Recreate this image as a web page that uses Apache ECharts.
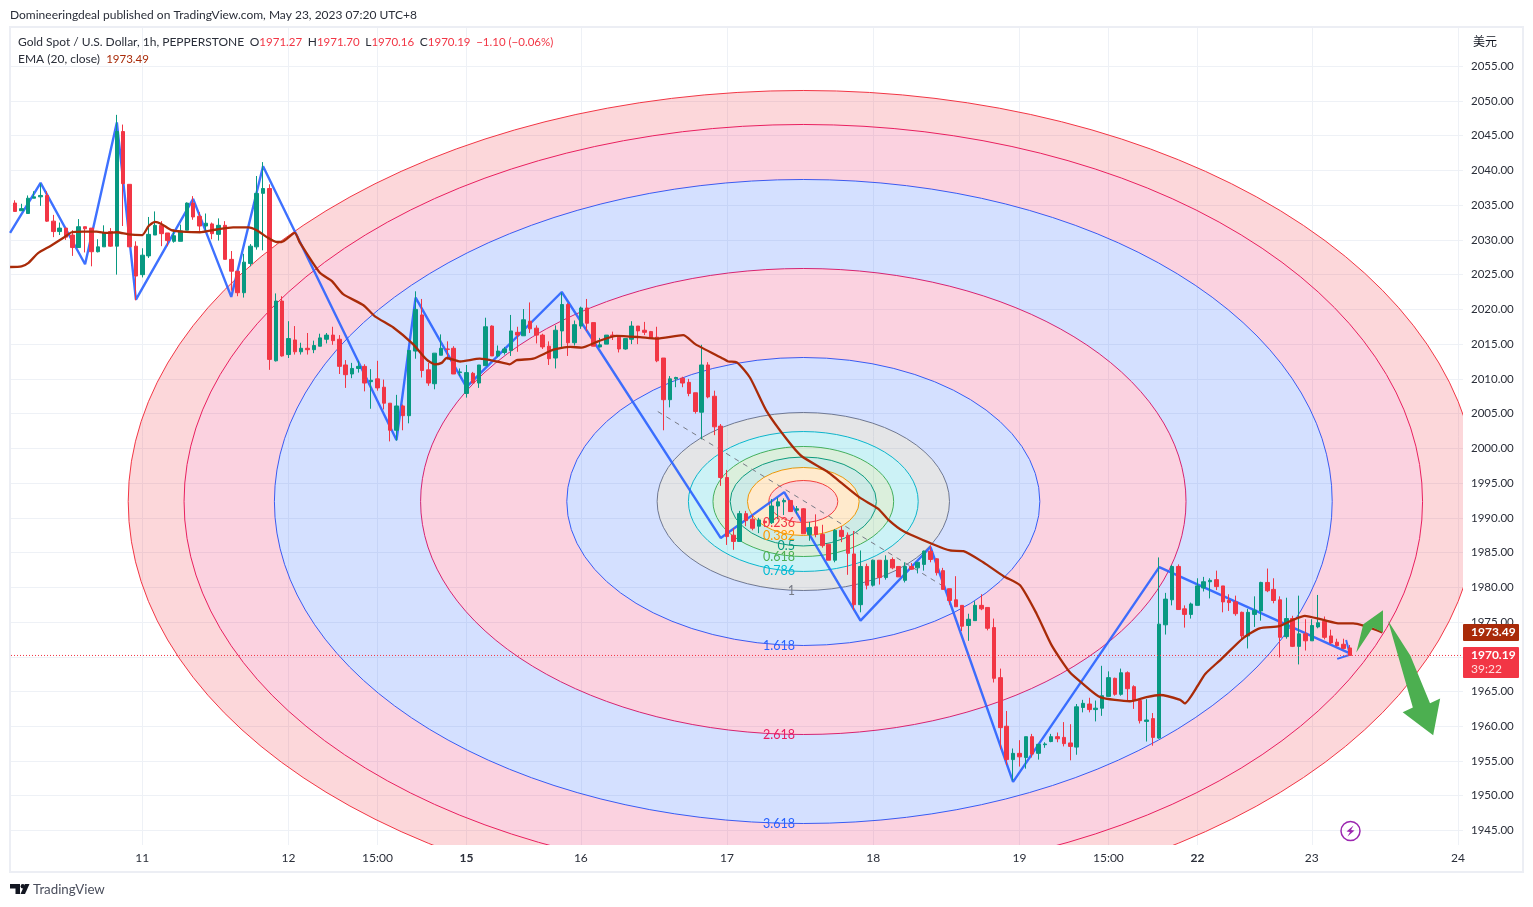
<!DOCTYPE html>
<html>
<head>
<meta charset="utf-8">
<style>html,body{margin:0;padding:0;background:#fff}#c{width:1533px;height:907px}</style>
<script src="https://cdn.jsdelivr.net/npm/echarts@6/dist/echarts.min.js"></script>
</head>
<body>
<div id="c"></div>
<script>
const candleOpen = [
2035.6,2035.3,2034.2,2033.8,2036,2036.2,2036.4,2032.7,2031.2,2031.7,
2030.7,2028.9,2031.9,2031.7,2028.3,2029,2031.2,2029.1,2045.6,2038,
2029.1,2025,2027.7,2030.7,2032.1,2031,2029.8,2029.8,2031.4,2035.3,
2033.4,2032,2032.3,2030.8,2032.1,2027.2,2025.5,2022.4,2026.6,2029,
2036.7,2037.4,2012.6,2021.2,2013.5,2015.6,2013.9,2014.4,2014.2,2014.7,
2015.7,2016.3,2015.7,2012,2010.7,2011.5,2011.8,2009.6,2010,2008.8,
2006.5,2002.6,2006.1,2004.7,2014,2019.2,2011.3,2009.3,2013.4,2014.3,
2014.4,2010.9,2007.9,2010.8,2009.4,2011.9,2017.6,2013.3,2013.8,2014.1,
2016.7,2016.2,2018.3,2017.3,2016.3,2014.7,2013,2016.9,2020.7,2015.2,
2017.6,2020.2,2018.1,2014.6,2015,2016.3,2016,2014.3,2015.7,2017.6,
2017,2016.8,2016,2013,2007,2010,2010.1,2009.5,2008,2005.2,
2012,2007.5,2003.2,1995.8,1987.5,1986.6,1990.6,1989.8,1988.8,1989.5,
1989.3,1991.7,1992.3,1992.5,1991.1,1991.3,1987.6,1988.7,1987.6,1986.2,
1983.9,1988.2,1987.5,1984.8,1977.5,1983,1980.3,1983.9,1981.4,1984,
1983,1981,1983,1982.8,1983.3,1985.2,1984.1,1982.4,1979.8,1978.2,
1977.4,1974.5,1975.2,1977.4,1977.1,1974.2,1967,1960,1955.2,1956.1,
1955.5,1958.5,1956.1,1957.35,1957.8,1958.5,1958.4,1957.6,1957,1962.7,
1963.2,1962.4,1962.6,1964.3,1966.9,1964.6,1967.7,1965.7,1963.7,1960.7,
1961.1,1958.3,1974.6,1978.2,1983,1976.9,1976.1,1977.4,1979.9,1980.8,
1981.1,1980.2,1978.1,1977.9,1976.4,1973,1976.1,1976.6,1980.7,1979.7,
1978.2,1972.9,1975.5,1971.5,1973.3,1972.3,1974.3,1975.1,1973,1972.1,1971.8,1971.27];
const candleClose = [
2035.2,2034.1,2034.5,2036,2036.2,2036.4,2032.7,2031.2,2031.7,2030.4,
2028.9,2031.9,2031.6,2028.3,2029,2031,2029.1,2045.6,2038.1,2029,
2024.8,2027.8,2030.8,2032.1,2030.9,2029.9,2030.6,2031.3,2035.3,2033.3,
2032,2032.4,2030.9,2032.1,2027.2,2025.5,2022.4,2026.8,2029.1,2036.7,
2037.4,2012.8,2021.2,2013.3,2015.8,2013.9,2014.4,2014.2,2014.8,2015.9,
2016.3,2015.5,2011.8,2010.6,2011.5,2011.8,2009.4,2009.8,2008.7,2006.5,
2002.6,2006.1,2004.7,2014.1,2020,2011.2,2009.4,2013.7,2014.4,2014.25,
2010.7,2011,2010.9,2009.4,2012,2017.5,2013.3,2014,2014.3,2016.9,
2016.3,2018.5,2017.2,2016.3,2014.6,2012.9,2017,2020.7,2015.2,2017.8,
2020.2,2018,2014.7,2014.9,2016.3,2016.2,2014.3,2015.8,2017.6,2016.9,
2016.7,2015.9,2012.6,2007,2010,2010.2,2009.4,2007.9,2005.3,2012,
2007.4,2003.1,1995.8,1987.3,1986.6,1990.6,1989.6,1988.5,1989.7,1989.3,
1991.7,1992.3,1992.5,1990.9,1991.3,1987.7,1988.6,1987.6,1986,1983.9,
1988.2,1987.3,1984.9,1977.5,1983,1980.3,1983.9,1981.4,1983.9,1982.8,
1981.5,1983,1982.6,1983.6,1985.2,1984,1982.1,1979.7,1978.1,1977.2,
1974.4,1975.4,1977.4,1976.9,1974.1,1966.9,1959.8,1955.2,1956.1,1955.6,
1958.5,1956,1957.4,1957.45,1958.5,1958.2,1957.5,1957.1,1962.8,1963.3,
1962.4,1962.6,1964.4,1967,1964.6,1967.7,1965.4,1963.7,1960.8,1960.9,
1958.4,1974.7,1978.3,1983,1976.8,1976.1,1977.6,1980.2,1980.8,1981,
1980.1,1977.9,1977.8,1976.2,1973,1976.4,1976.7,1980.7,1979.5,1978.1,
1972.8,1975.5,1971.5,1973.3,1972.3,1974.5,1974.9,1972.8,1972,1971.6,1971.2,1970.19];
const candleHigh = [
2035.7,2035.7,2035.2,2036.4,2037,2038.1,2037,2033.6,2032.5,2031.7,
2031.4,2033,2031.9,2031.7,2030.1,2032.1,2031.7,2048,2046.6,2038,
2029.8,2028.8,2033.3,2034.1,2032.7,2031,2031.5,2032.2,2035.4,2036.3,
2034,2033.8,2032.5,2033.1,2032.7,2028.4,2025.5,2028,2029.4,2039.2,
2041.2,2038,2022.3,2021.9,2018.3,2017.6,2015.2,2016.6,2015.5,2016.5,
2016.6,2017.5,2016.3,2012.7,2012.3,2012.6,2012.1,2011.4,2012.6,2009.9,
2006.5,2007.7,2006.3,2014.1,2022.6,2021.5,2012.3,2013.7,2016.4,2015.4,
2014.7,2011.5,2012,2011,2012,2018.8,2017.7,2014.8,2014.6,2019.2,
2017.5,2020.05,2021,2017.7,2016.5,2015.4,2017.7,2022.4,2020.9,2018.4,
2020.4,2021.5,2018.1,2015.9,2016.3,2016.8,2016,2015.8,2018.3,2017.6,
2018.2,2016.9,2017.5,2013,2010.4,2010.3,2010.3,2010,2008,2014.9,
2012.4,2008.3,2003.5,1996.9,1988.5,1991,1991,1990.4,1990,1989.7,
1992.7,1992.9,1992.8,1992.5,1991.7,1991.4,1989.4,1990.5,1989,1986.2,
1988.4,1988.8,1987.9,1988.1,1985.3,1983.4,1984,1983.9,1984.6,1984.3,
1983,1983.6,1983.5,1983.6,1985.3,1986,1984.2,1982.8,1979.8,1981.6,
1977.4,1976.2,1978,1979,1977.1,1975.5,1968.3,1962.2,1956.8,1958,
1958.5,1958.9,1957.4,1957.7,1958.9,1959.1,1960.6,1960.3,1963.2,1963.8,
1964.1,1963.7,1968.7,1967.9,1967,1968.3,1967.9,1965.9,1963.9,1963.9,
1961.9,1984.3,1979.2,1983.2,1983.3,1977.4,1977.8,1981.3,1981.5,1981.3,
1982.4,1980.2,1979,1978.8,1976.5,1976.9,1978.7,1980.8,1982.7,1981.3,
1978.7,1978.5,1975.9,1978.8,1975.4,1975.4,1978.9,1975.8,1973.9,1972.6,1972.6,1971.7];
const candleLow = [
2035.1,2034.1,2034.2,2033.8,2036,2034.9,2032.6,2030.4,2030.7,2030,
2027.7,2028.9,2028.2,2026.2,2028.2,2029,2029,2025,2032,2029,
2021.3,2024.6,2027.4,2030.7,2029.1,2029.1,2029.6,2029.8,2031.4,2032.9,
2031.3,2031.3,2030.1,2029.9,2027.2,2022.7,2021.9,2021.7,2026.2,2028.6,
2028.5,2011.3,2012.5,2013.2,2013,2013.5,2013.5,2013.5,2013.7,2014.7,
2015.1,2014.9,2010.7,2008.7,2010.1,2010.9,2008.2,2005.7,2008.3,2005.6,
2001,2001.1,2002.6,2003.6,2012.9,2010.2,2009,2008.5,2013.4,2012.8,
2010.7,2010.4,2007.3,2009.4,2008.7,2011.9,2013.3,2013.1,2013.5,2013.3,
2013.9,2016.2,2016.6,2015.1,2014.3,2012,2011.5,2014.6,2013.3,2014.8,
2017.2,2016.9,2014.7,2014.5,2015,2015.6,2013.8,2014.2,2015,2015,
2016.3,2015.9,2012.4,2002.6,2005.9,2008.8,2008.8,2007.5,2005,2001.3,
2007.2,2001.9,1994.6,1986.1,1985.4,1986.6,1988.8,1988.2,1987.8,1988.7,
1989.1,1989.8,1990.4,1990.9,1990.6,1987.7,1986.7,1987.2,1985.7,1983.9,
1983.6,1986.5,1981.8,1976.7,1976.4,1979.7,1980.1,1980.4,1981.1,1982.6,
1981.5,1980.7,1982.5,1982,1982.4,1983.6,1981.7,1979.7,1977.5,1977.2,
1973.7,1972.3,1975.2,1976.7,1973.8,1966.3,1956.7,1954.4,1952.2,1954.2,
1953.9,1955.5,1955.2,1956.9,1957.7,1957.7,1957.1,1955.1,1955.9,1962,
1962,1960.7,1961.5,1964.3,1964.4,1964.4,1963.7,1962.5,1960.4,1957.8,
1957.2,1958.2,1973.2,1977.4,1976.8,1974.2,1975.5,1977.4,1979.4,1978.4,
1979.6,1976.4,1976.6,1975.9,1972.4,1971.2,1974.3,1975.2,1979.3,1977.7,
1969.9,1972.6,1971.4,1968.9,1970.9,1972.3,1974.1,1972.5,1971.8,1971.5,1971.1,1970.16];

const emaBars = [0.2,2,3.1,4.6,6.5,8.6,9.9,11.7,13.8,15.4,17,18.8,21,22,23,24,25.6,27.2,30.1,32.7,35.3,37.7,39,40.6,42.1,42.9,45,45.8,48.9,50.8,52.6,55.8,57.6,60.5,63.6,65.7,67,68.1,68.9,71,74.1,76.8,78.8,79.9,82.5,85.7,88.3,90.1,92.7,95.6,99.3,101.9,106.1,108,112.4,113.2,114.5,116.6,119.2,122.4,124.7,128.7,130.5,133.9,136.8,138.4,140.7,145.4,148.1,150.2,153.3,156.5,159.1,161.7,164.1,166.9,169,171.7,176.4,179,181.1,184.3,185,187.1,188.2,190.8,194.2,196.8,199.9,202,203.9,206.8,209.4,211.5,216.1];
const emaValues = [2026.1,2026.2,2026.7,2028.1,2029.1,2030.3,2031.1,2031.2,2031.2,2031,2031.1,2030.8,2030.7,2032,2032.6,2032.3,2031.4,2031.2,2031.1,2031.5,2031.8,2031.8,2031.4,2030.4,2029.7,2029.7,2031,2029.6,2025.3,2024.1,2022.2,2020.6,2019,2017.4,2015,2012.8,2012.1,2012.3,2013,2012.5,2012.9,2012.5,2012.1,2012.7,2012.9,2014.2,2014.6,2014.5,2015.4,2016.2,2016,2015.8,2016.3,2015,2012.9,2012.5,2012.4,2010.2,2005.4,2001.3,1998.9,1996.7,1995.4,1992.9,1991.3,1989.7,1988.1,1986.2,1985.3,1985.2,1983.6,1981.6,1980.3,1976.2,1971.6,1967.8,1966.1,1964.2,1963.6,1964.2,1964.5,1963.8,1963.3,1965.9,1967.5,1969.7,1972.7,1974.1,1974.4,1975.3,1975.9,1975.3,1974.8,1974.8,1973.5];

const zigzagBars = [0.2,5,12,17,20,29,35,40,61,64,72,87,112,122,134,145,158,181,211];
const zigzagPrices = [2031,2038.2,2026.5,2046.9,2021.4,2035.9,2021.8,2040.6,2001.2,2021.7,2008.8,2022.5,1987.1,1993.7,1975.2,1985.8,1952,1982.9,1970.5];
const zigzagHeadBars = [209,211,210.4];
const zigzagHeadPrices = [1969.7,1970.3,1972.4];

const fibLevels = [0.236,0.382,0.5,0.618,0.786,1,1.618,2.618,3.618,4.236,4.618];
const fibColors = ['#f23645','#ff9800','#089981','#4caf50','#00bcd4','#787b86','#2962ff','#e91e63','#2962ff','#e91e63','#f23645'];
const fibCenterBar = 125, fibCenterPrice = 1992.35, fibUnitBars = 23.0, fibUnitPrice = 12.81, fibLabelBar = 123.7;
const fibTrendBars = [102.1,147.3];
const fibTrendPrices = [2005.3,1980];

const upArrowBars = [212,213.1,216.2,216.2,214.6];
const upArrowPrices = [1970.6,1974.7,1976.7,1973.5,1974.2];
const downArrowBars = [217,220.9,219.3,224.1,225.2,223.6,220.5];
const downArrowPrices = [1975.2,1962.7,1962,1958.7,1964,1963.3,1970.2];

const timeTickBars = [21,44,58,72,90,113,136,159,173,187,205,228];
const timeTickLabels = ['11','12','15:00','15','16','17','18','19','15:00','22','23','24'];
const boldTicks = ['15','22'];
const priceTicks = [1945,1950,1955,1960,1965,1970,1975,1980,1985,1990,1995,2000,2005,2010,2015,2020,2025,2030,2035,2040,2045,2050,2055];
const lastClose = 1970.19, lastEma = 1973.49;
const countdown = '39:22';

const xMin = 0.346, xMax = 228.79, yMin = 1942.91, yMax = 2060.5;
const FONT = 'Lato, "Noto Sans", sans-serif';
const UP = '#089981', DOWN = '#f23645', EMA = '#a92b09', GREEN = '#4caf50', BLUE = '#2962ff', INK = '#2a2e39';

const candles = candleOpen.map((o, i) => [i, o, candleClose[i], candleLow[i], candleHigh[i]]);
const pairs = (a, b) => a.map((v, i) => [v, b[i]]);

function ellipsePath(cx, cy, rx, ry, sweep) {
  return `M${cx - rx} ${cy}A${rx} ${ry} 0 1 ${sweep} ${cx + rx} ${cy}A${rx} ${ry} 0 1 ${sweep} ${cx - rx} ${cy}Z`;
}

function renderFib(params, api) {
  const i = api.value(0);
  const lvl = fibLevels[i];
  const c = api.coord([fibCenterBar, fibCenterPrice]);
  const e = api.coord([fibCenterBar + fibUnitBars * lvl, fibCenterPrice - fibUnitPrice * lvl]);
  const rx = e[0] - c[0], ry = e[1] - c[1];
  const outer = ellipsePath(c[0], c[1], rx, ry, 0);
  let d = outer;
  if (i > 0) {
    const p = fibLevels[i - 1];
    const e0 = api.coord([fibCenterBar + fibUnitBars * p, fibCenterPrice - fibUnitPrice * p]);
    d += ellipsePath(c[0], c[1], e0[0] - c[0], e0[1] - c[1], 1);
  }
  const col = fibColors[i];
  return {
    type: 'group',
    children: [
      { type: 'path', shape: { pathData: d }, style: { fill: col, opacity: 0.2, stroke: null, lineWidth: 0 } },
      { type: 'path', shape: { pathData: outer }, style: { fill: null, stroke: col, lineWidth: 1 } }
    ]
  };
}

function renderFibLabel(params, api) {
  const i = api.value(0);
  const lvl = fibLevels[i];
  const p = api.coord([fibLabelBar, fibCenterPrice - fibUnitPrice * lvl]);
  return { type: 'text', style: { text: String(lvl), x: p[0], y: p[1], fill: fibColors[i], align: 'right', verticalAlign: 'middle', font: '12.5px ' + FONT } };
}

function renderArrow(params, api) {
  const list = api.value(0) === 0 ? pairs(upArrowBars, upArrowPrices) : pairs(downArrowBars, downArrowPrices);
  return { type: 'polygon', shape: { points: list.map(p => api.coord(p)) }, style: { fill: GREEN } };
}

function renderTag(params, api) {
  const idx = api.value(0);
  const price = idx === 0 ? lastEma : lastClose;
  const y = api.coord([xMax, price])[1], x = api.coord([xMax, price])[0];
  if (idx === 0) {
    return { type: 'group', children: [
      { type: 'rect', shape: { x: x, y: y - 8.5, width: 56, height: 17, r: 1 }, style: { fill: EMA } },
      { type: 'text', style: { text: price.toFixed(2), x: x + 8, y: y, fill: '#fff', verticalAlign: 'middle', font: 'bold 12px ' + FONT } }
    ] };
  }
  return { type: 'group', children: [
    { type: 'rect', shape: { x: x, y: y - 8.5, width: 56, height: 31, r: 1 }, style: { fill: DOWN } },
    { type: 'text', style: { text: price.toFixed(2), x: x + 8, y: y, fill: '#fff', verticalAlign: 'middle', font: 'bold 12px ' + FONT } },
    { type: 'text', style: { text: countdown, x: x + 8, y: y + 14, fill: '#fdd', verticalAlign: 'middle', font: '12px ' + FONT } }
  ] };
}

const chart = echarts.init(document.getElementById('c'), null, { renderer: 'canvas' });
chart.setOption({
  animation: false,
  backgroundColor: '#fff',
  textStyle: { fontFamily: FONT },
  grid: { left: 11, top: 28, width: 1452, height: 817, containLabel: false },
  xAxis: {
    type: 'value', min: xMin, max: xMax, boundaryGap: [0, 0],
    axisLine: { show: false },
    axisTick: { show: false, customValues: timeTickBars },
    splitLine: { show: true, lineStyle: { color: '#eef1f6', width: 1 } },
    axisLabel: {
      customValues: timeTickBars, margin: 7, fontSize: 12, color: INK, fontFamily: FONT,
      formatter: v => { const t = timeTickLabels[timeTickBars.indexOf(v)]; return boldTicks.includes(t) ? '{b|' + t + '}' : t; },
      rich: { b: { fontSize: 12, fontWeight: 'bold', color: '#2a2e39', fontFamily: FONT } }
    }
  },
  yAxis: {
    type: 'value', position: 'right', min: yMin, max: yMax, scale: true,
    axisLine: { show: false },
    axisTick: { show: false, customValues: priceTicks },
    splitLine: { show: true, lineStyle: { color: '#eef1f6', width: 1 } },
    axisLabel: { customValues: priceTicks, margin: 8, fontSize: 11.5, color: INK, fontFamily: FONT, formatter: v => v.toFixed(2) }
  },
  graphic: [
    { type: 'rect', z: -1, silent: true, shape: { x: 10, y: 27, width: 1513, height: 845 }, style: { fill: null, stroke: '#eceef4', lineWidth: 2 } },
    { type: 'text', silent: true, style: { text: 'Domineeringdeal published on TradingView.com, May 23, 2023 07:20 UTC+8', x: 10, y: 15, verticalAlign: 'middle', fill: INK, font: '12px ' + FONT } },
    { type: 'text', silent: true, z: 20, style: {
        text: '{g|Gold Spot / U.S. Dollar, 1h, PEPPERSTONE}{s|  }{g|O}{r|1971.27}{s|  }{g|H}{r|1971.70}{s|  }{g|L}{r|1970.16}{s|  }{g|C}{r|1970.19}{s|  }{r|\u22121.10 (\u22120.06%)}',
        x: 18, y: 42, verticalAlign: 'middle', font: '12px ' + FONT,
        rich: { g: { fill: INK, font: '12px ' + FONT }, r: { fill: DOWN, font: '11.5px ' + FONT }, s: { font: '11px ' + FONT } } } },
    { type: 'text', silent: true, z: 20, style: {
        text: '{g|EMA (20, close)}{s|  }{e|1973.49}', x: 18, y: 59, verticalAlign: 'middle', font: '12px ' + FONT,
        rich: { g: { fill: INK, font: '12px ' + FONT }, e: { fill: EMA, font: '11.5px ' + FONT }, s: { font: '12px ' + FONT } } } },
    { type: 'text', silent: true, style: { text: '\u7f8e\u5143', x: 1473, y: 41, verticalAlign: 'middle', fill: '#131722', font: '12px "Noto Sans CJK SC"' } },
    { type: 'polygon', silent: true, shape: { points: [[10,884],[20,884],[20,894],[15.5,894],[15.5,888.5],[10,888.5]] }, style: { fill: '#131722' } },
    { type: 'polygon', silent: true, shape: { points: [[29.5,884],[25,894],[20.5,894],[25,884]] }, style: { fill: '#131722' } },
    { type: 'circle', silent: true, shape: { cx: 22.8, cy: 886.2, r: 2.2 }, style: { fill: '#131722' } },
    { type: 'text', silent: true, style: { text: 'TradingView', x: 33, y: 889.5, verticalAlign: 'middle', fill: '#4a4e5c', font: '13.3px ' + FONT } },
    { type: 'circle', silent: true, z: 20, shape: { cx: 1350.5, cy: 831, r: 9.5 }, style: { fill: 'rgba(255,255,255,0.0)', stroke: '#9c27b0', lineWidth: 1.5 } },
    { type: 'polygon', silent: true, z: 20, shape: { points: [[1353.5,825.5],[1346.5,831.5],[1350,832],[1347.5,836.5],[1354.5,830.5],[1351,830]] }, style: { fill: '#9c27b0' } }
  ],
  series: [
    { type: 'custom', coordinateSystem: 'cartesian2d', clip: true, z: 1, silent: true, renderItem: renderFib,
      encode: { x: 1, y: 2 }, data: fibLevels.map((l, i) => [i, fibCenterBar, fibCenterPrice]) },
    { type: 'line', z: 2, silent: true, symbol: 'none', data: pairs(fibTrendBars, fibTrendPrices), lineStyle: { color: '#787b86', width: 1, type: [5, 5] } },
    { type: 'line', z: 3, silent: true, symbol: 'none', data: pairs(zigzagBars, zigzagPrices), lineStyle: { color: BLUE, width: 2.4, opacity: 0.9 } },
    { type: 'line', z: 3, silent: true, symbol: 'none', data: pairs(zigzagHeadBars, zigzagHeadPrices), lineStyle: { color: BLUE, width: 2, opacity: 0.9 } },
    { type: 'candlestick', z: 4, silent: true, barWidth: 4, large: false, progressive: 0,
      encode: { x: 0, y: [1, 2, 3, 4] }, data: candles,
      itemStyle: { color: UP, color0: DOWN, borderColor: UP, borderColor0: DOWN, borderWidth: 1 } },
    { type: 'line', z: 5, silent: true, symbol: 'none', data: pairs([xMin, xMax], [lastClose, lastClose]), lineStyle: { color: DOWN, width: 1, type: [1, 2] } },
    { type: 'custom', coordinateSystem: 'cartesian2d', clip: true, z: 5, silent: true, renderItem: renderFibLabel,
      encode: { x: 1, y: 2 }, data: fibLevels.map((l, i) => [i, fibLabelBar, fibCenterPrice - fibUnitPrice * l]) },
    { type: 'line', z: 6, silent: true, symbol: 'none', smooth: 0.2, data: pairs(emaBars, emaValues), lineStyle: { color: EMA, width: 2.3 } },
    { type: 'custom', coordinateSystem: 'cartesian2d', z: 7, silent: true, renderItem: renderArrow, encode: { x: 1, y: 2 },
      data: [[0, upArrowBars[0], upArrowPrices[0]], [1, downArrowBars[0], downArrowPrices[0]]] },
    { type: 'custom', coordinateSystem: 'cartesian2d', clip: false, z: 10, silent: true, renderItem: renderTag, encode: { x: 1, y: 2 },
      data: [[0, xMax, lastEma], [1, xMax, lastClose]] }
  ]
});
</script>
</body>
</html>
